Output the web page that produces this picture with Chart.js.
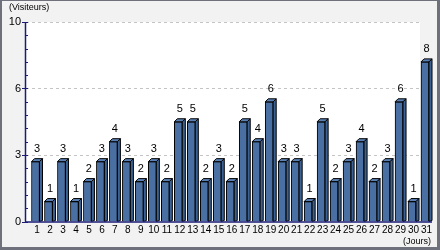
<!DOCTYPE html>
<html>
<head>
<meta charset="utf-8">
<script src="https://cdn.jsdelivr.net/npm/chart.js@4"></script>
<style>
  html, body { margin: 0; padding: 0; background: #f2f2f2; }
  #wrap { width: 440px; height: 250px; }
</style>
</head>
<body>
<div id="wrap"><canvas id="chart" width="440" height="250"></canvas></div>
<script>
const days = ['1','2','3','4','5','6','7','8','9','10','11','12','13','14','15','16',
              '17','18','19','20','21','22','23','24','25','26','27','28','29','30','31'];
const visitors = [3, 1, 3, 1, 2, 3, 4, 3, 2, 3, 2, 5, 5, 2, 3, 2,
                  5, 4, 6, 3, 3, 1, 5, 2, 3, 4, 2, 3, 6, 1, 8];
const yTicks = [0, 10 / 3, 20 / 3, 10];
const yTickLabels = ['0', '3', '6', '10'];
const yTitle = '(Visiteurs)';
const xTitle = '(Jours)';

const depth = 3;
const axisColor = '#1c1c78';

const frame = {
    id: 'frame',
    beforeDraw(chart) {
        const c = chart.ctx;
        const y = chart.scales.y;
        c.save();
        c.fillStyle = '#f2f2f2';
        c.fillRect(0, 0, 440, 250);
        c.fillStyle = '#6e707c';
        c.fillRect(0, 0, 2, 250);
        c.fillRect(0, 0, 440, 1);
        c.fillRect(437, 0, 3, 250);
        c.fillRect(0, 247, 440, 3);
        // plot background
        const top = y.getPixelForValue(10);
        const bottom = y.getPixelForValue(0);
        c.fillStyle = '#ffffff';
        c.fillRect(25, top, 420 - 25, bottom - top);
        // dashed grid
        c.strokeStyle = '#c4c4c4';
        c.lineWidth = 1;
        c.setLineDash([3, 3]);
        yTicks.slice(1).forEach(v => {
            const py = Math.round(y.getPixelForValue(v)) + 0.5;
            c.beginPath();
            c.moveTo(26, py);
            c.lineTo(420, py);
            c.stroke();
        });
        c.restore();
    },
    afterDatasetsDraw(chart) {
        const c = chart.ctx;
        const y = chart.scales.y;
        const bars = chart.getDatasetMeta(0).data;
        c.save();
        c.lineWidth = 1;
        c.strokeStyle = '#000000';
        bars.forEach((b, i) => {
            const xl = b.x - b.width / 2, xr = b.x + b.width / 2;
            const top = b.y, base = b.base;
            // top face
            c.fillStyle = '#5a80b4';
            c.beginPath();
            c.moveTo(xl, top);
            c.lineTo(xl + depth, top - depth);
            c.lineTo(xr + depth, top - depth);
            c.lineTo(xr, top);
            c.closePath();
            c.fill();
            c.stroke();
            // side face
            c.fillStyle = '#3c6294';
            c.beginPath();
            c.moveTo(xr, top);
            c.lineTo(xr + depth, top - depth);
            c.lineTo(xr + depth, base - 1);
            c.lineTo(xr, base);
            c.closePath();
            c.fill();
            c.stroke();
            // value label
            c.fillStyle = '#000000';
            c.font = '11px "Liberation Sans", Arial, sans-serif';
            c.textAlign = 'center';
            c.textBaseline = 'alphabetic';
            c.fillText(String(visitors[i]), b.x + 1.5, top - 10);
        });
        // axes
        const top = y.getPixelForValue(10);
        const bottom = y.getPixelForValue(0);
        c.strokeStyle = axisColor;
        c.lineWidth = 1.5;
        c.beginPath();
        c.moveTo(25.5, top);
        c.lineTo(25.5, bottom);
        c.moveTo(25, bottom + 0.5);
        c.lineTo(432, bottom + 0.5);
        c.stroke();
        c.lineWidth = 1;
        for (let i = 0; i <= 15; i++) {
            const py = Math.round(y.getPixelForValue(i * 10 / 15)) + 0.5;
            c.beginPath();
            c.moveTo(25, py);
            c.lineTo(28, py);
            c.stroke();
        }
        yTicks.forEach(v => {
            const py = Math.round(y.getPixelForValue(v)) + 0.5;
            c.beginPath();
            c.moveTo(22, py);
            c.lineTo(28, py);
            c.stroke();
        });
        // axis titles
        c.fillStyle = '#000000';
        c.font = '9px "Liberation Sans", Arial, sans-serif';
        c.textBaseline = 'middle';
        c.textAlign = 'left';
        c.fillText(yTitle, 9, 8);
        c.textAlign = 'right';
        c.fillText(xTitle, 431, 242);
        c.restore();
    }
};

new Chart(document.getElementById('chart'), {
    type: 'bar',
    data: {
        labels: days,
        datasets: [{
            data: visitors,
            backgroundColor: '#4a70a3',
            borderColor: '#000000',
            borderWidth: 1,
            barThickness: 8
        }]
    },
    options: {
        responsive: false,
        animation: false,
        devicePixelRatio: 1,
        layout: { padding: { top: 22, right: 8.5, bottom: 0, left: 0 } },
        plugins: { legend: { display: false }, tooltip: { enabled: false } },
        scales: {
            x: {
                grid: { display: false, drawTicks: false },
                border: { display: false },
                afterFit(s) { s.height = 28.5; },
                ticks: {
                    color: '#000000',
                    font: { family: '"Liberation Sans", Arial, sans-serif', size: 10 },
                    padding: 3,
                    labelOffset: 1.5,
                    autoSkip: false,
                    maxRotation: 0
                }
            },
            y: {
                min: 0,
                max: 10,
                grid: { display: false, drawTicks: false },
                border: { display: false },
                afterFit(s) { s.width = 29; },
                afterBuildTicks(s) { s.ticks = yTicks.map(v => ({ value: v })); },
                ticks: {
                    color: '#000000',
                    font: { family: '"Liberation Sans", Arial, sans-serif', size: 11 },
                    padding: 8,
                    callback: (v, i) => yTickLabels[i]
                }
            }
        }
    },
    plugins: [frame]
});
</script>
</body>
</html>
